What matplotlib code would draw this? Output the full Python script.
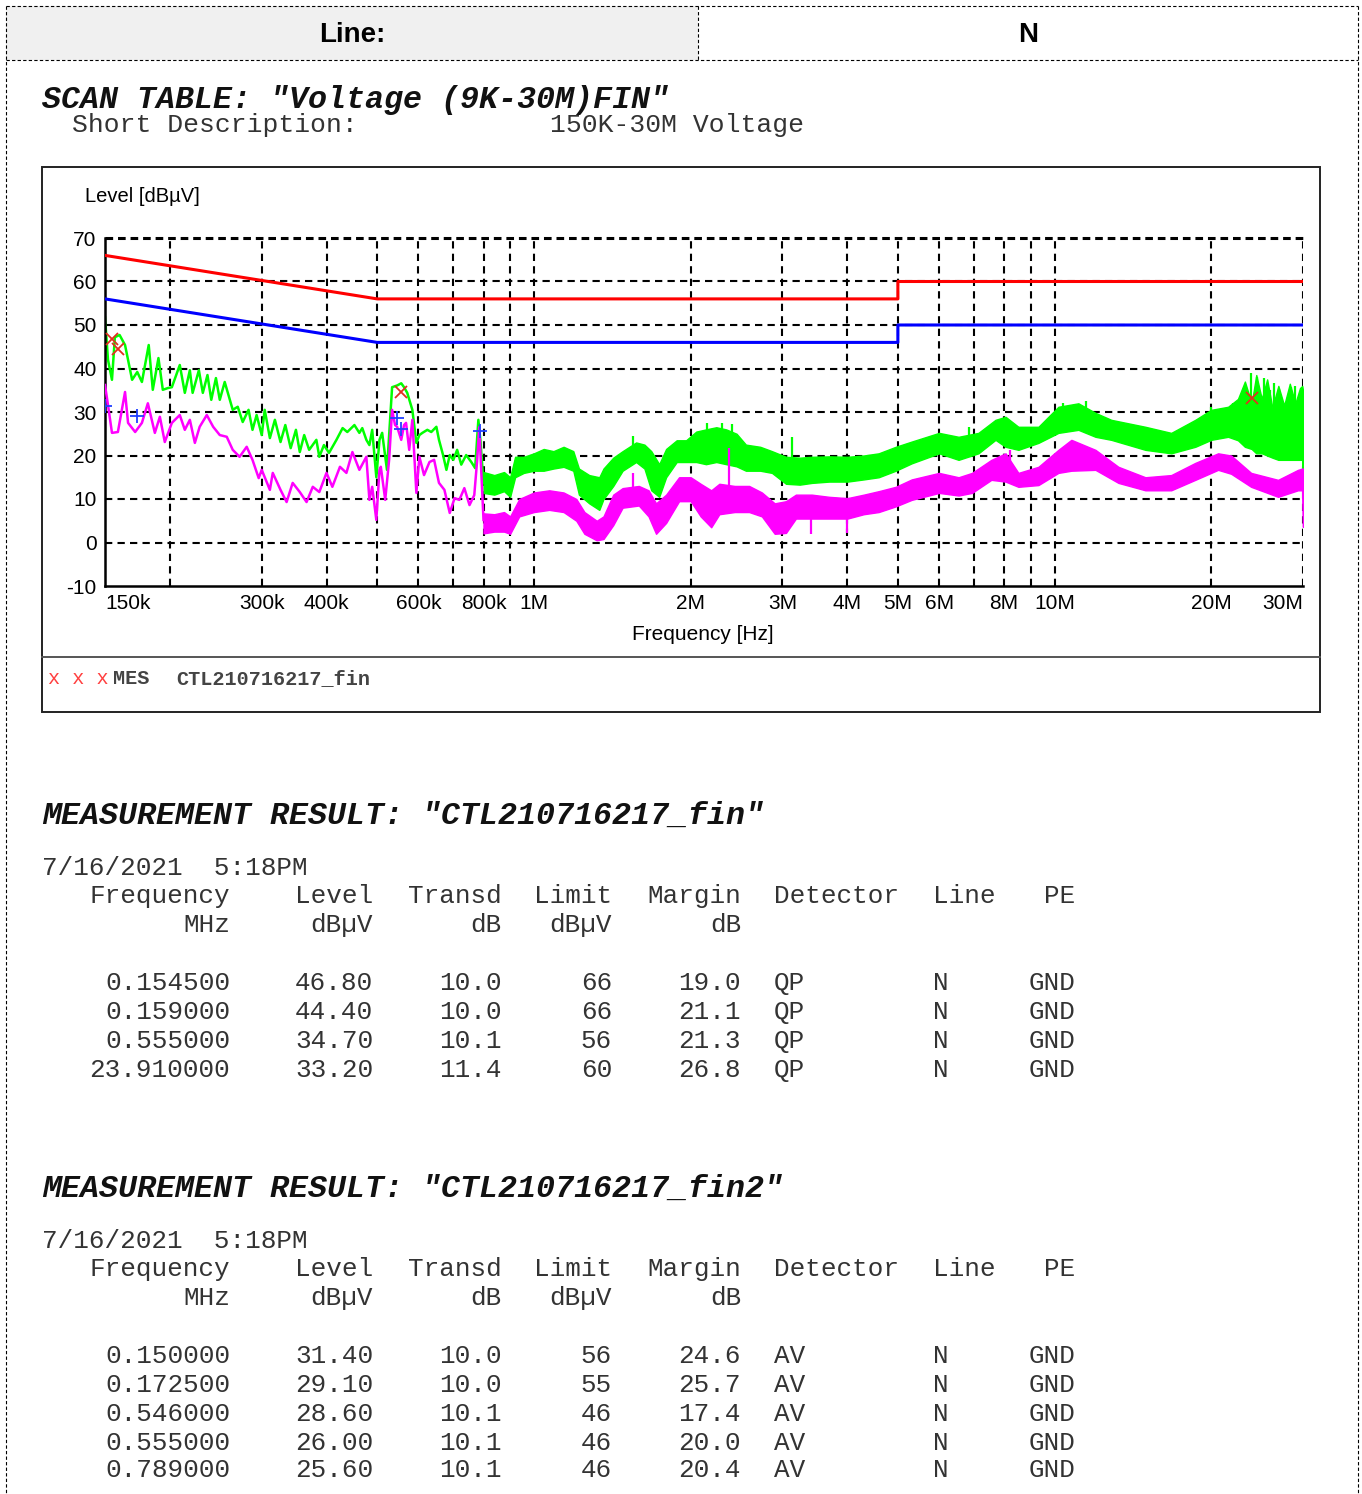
import numpy as np
import matplotlib.pyplot as plt
from matplotlib.patches import Rectangle
from matplotlib.ticker import NullLocator

W, H = 1362, 1494

# final measurement results, QP detector
qp_freq = [0.1545, 0.159, 0.555, 23.91]
qp_level = [46.80, 44.40, 34.70, 33.20]
qp_transd = [10.0, 10.0, 10.1, 11.4]
qp_limit = [66, 66, 56, 60]
qp_margin = [19.0, 21.1, 21.3, 26.8]

# final measurement results, AV detector
av_freq = [0.150, 0.1725, 0.546, 0.555, 0.789]
av_level = [31.40, 29.10, 28.60, 26.00, 25.60]
av_transd = [10.0, 10.0, 10.1, 10.1, 10.1]
av_limit = [56, 55, 46, 46, 46]
av_margin = [24.6, 25.7, 17.4, 20.0, 20.4]

# limit lines (MHz, dBuV)
lim_f = [0.15, 0.5, 5.0, 5.0, 30.0]
qp_lim = [66, 56, 56, 60, 60]
av_lim = [56, 46, 46, 50, 50]

# peak trace (green), 150k - 800k
pk_f = [0.150, 0.152, 0.1547, 0.1567, 0.160, 0.1639, 0.1691, 0.173, 0.1766, 0.182,
        0.1853, 0.190, 0.1937, 0.198, 0.2016, 0.2088, 0.2135, 0.2183, 0.221, 0.2272,
        0.2312, 0.236, 0.240, 0.245, 0.2492, 0.2547, 0.2639, 0.2698, 0.2758, 0.283,
        0.288, 0.2933, 0.300, 0.304, 0.311, 0.318, 0.326, 0.333, 0.341, 0.349,
        0.355, 0.362, 0.370, 0.382, 0.387, 0.395, 0.404, 0.4175, 0.429, 0.438,
        0.452, 0.462, 0.468, 0.4765, 0.483, 0.489, 0.498, 0.505, 0.511, 0.522,
        0.534, 0.546, 0.556, 0.563, 0.571, 0.584, 0.5945, 0.6025, 0.6105, 0.624,
        0.635, 0.6495, 0.657, 0.669, 0.679, 0.689, 0.700, 0.712, 0.725, 0.741,
        0.758, 0.771, 0.782, 0.789, 0.80]
pk_v = [51.8, 42.0, 37.4, 47.2, 47.7, 45.4, 37.4, 39.2, 36.9, 45.4,
        35.1, 42.4, 35.1, 35.5, 35.7, 40.8, 34.4, 39.6, 34.4, 39.6,
        34.4, 38.5, 32.8, 37.8, 32.8, 36.9, 30.5, 31.2, 27.7, 30.5,
        25.9, 29.3, 24.7, 30.5, 24.0, 28.2, 23.1, 27.0, 21.7, 25.9,
        20.8, 24.7, 21.3, 23.6, 19.7, 22.4, 20.6, 23.6, 26.3, 25.4,
        27.0, 25.2, 26.3, 23.6, 22.4, 25.9, 15.0, 23.6, 25.2, 16.7,
        35.7, 36.1, 36.6, 35.7, 34.4, 30.5, 22.9, 24.7, 25.2, 25.9,
        25.4, 26.6, 23.6, 20.1, 16.7, 20.1, 19.0, 21.3, 17.9, 20.1,
        18.5, 17.1, 28.2, 23.6, 13.7]

# peak trace, 800k - 30M (dense noise band: upper / lower edge)
pk_band_f = [0.80, 0.839, 0.876, 0.90, 0.92, 0.956, 1.0, 1.044, 1.09, 1.14,
             1.19, 1.22, 1.277, 1.335, 1.36, 1.42, 1.48, 1.571, 1.63, 1.68,
             1.74, 1.794, 1.88, 1.96, 2.05, 2.14, 2.24, 2.34, 2.45, 2.553,
             2.72, 2.865, 3.048, 3.24, 3.418, 3.69, 4.0, 4.3, 4.594, 4.953,
             5.315, 6.0, 6.54, 7.14, 7.70, 8.05, 8.52, 9.31, 10.17, 11.11,
             11.98, 12.85, 14.94, 16.75, 18.63, 19.99, 21.54, 22.5, 23.2, 23.9,
             24.4, 25.0, 25.6, 26.2, 26.9, 27.6, 28.3, 29.0, 29.6, 29.9, 30.0]
pk_band_hi = [16.2, 15.5, 16.2, 15, 19.7, 19.7, 20.5, 21.5, 21, 22,
              21, 17, 15.5, 15, 17, 19.5, 21, 23, 22.5, 21,
              18, 21.5, 23.5, 23.5, 25.5, 26, 26.5, 26, 25, 22.5,
              22, 21, 19.7, 19.5, 19.7, 19.8, 19.7, 20, 20.5, 22,
              23.2, 25.2, 24.3, 25.2, 28.2, 28.9, 26.6, 26.6, 31.2, 32,
              29.8, 28.2, 26.6, 25.2, 28.2, 30.5, 31.2, 33, 37, 32,
              38.5, 33, 37.5, 31, 36, 31.5, 36.5, 32, 35.5, 36, 35]
pk_band_lo = [11.4, 11, 11.8, 10.5, 15, 16, 16.5, 16.5, 17, 17.4,
              16.5, 11, 9, 7.5, 10, 13, 16.5, 18.5, 17, 12,
              10.5, 15, 18.5, 18.5, 18.5, 18, 18.5, 18, 17.5, 16.5,
              16.5, 16, 13.5, 13.3, 13.7, 14, 14, 14.5, 15, 16.5,
              18.2, 20.5, 19, 20.5, 23.6, 22, 21.3, 22.9, 25.2, 25.9,
              24.3, 23.6, 21.3, 20.5, 22, 23.6, 24.3, 23.5, 22, 21.5,
              20.5, 20.5, 20, 19.5, 19, 19, 19, 19, 19, 19, 10.5]
# single narrow spikes sticking out of the peak band
pk_spike_f = [1.55, 2.15, 2.30, 2.40, 3.13, 6.84, 10.4, 11.5, 20.0, 22.0,
              23.8, 24.5, 25.3, 25.9, 26.4, 27.0, 28.4, 29.0]
pk_spike_v = [24.5, 27.4, 27.4, 27.2, 24.3, 26.6, 32.0, 32.5, 31.2, 31.4,
              39.0, 38.0, 37.8, 35.0, 36.6, 34.5, 35.5, 36.0]

# average trace (magenta), 150k - 800k
avg_f = [0.150, 0.152, 0.1547, 0.1588, 0.1639, 0.1661, 0.1714, 0.1766, 0.1813, 0.187,
         0.1912, 0.1954, 0.2016, 0.2088, 0.2135, 0.2183, 0.2232, 0.228, 0.2353, 0.242,
         0.2492, 0.257, 0.2639, 0.272, 0.2807, 0.288, 0.296, 0.300, 0.311, 0.315,
         0.326, 0.3349, 0.344, 0.355, 0.3658, 0.376, 0.387, 0.3995, 0.410, 0.424,
         0.4363, 0.448, 0.462, 0.4765, 0.483, 0.489, 0.498, 0.505, 0.508, 0.518,
         0.527, 0.534, 0.541, 0.546, 0.556, 0.563, 0.568, 0.576, 0.584, 0.5945,
         0.6025, 0.615, 0.630, 0.643, 0.657, 0.673, 0.689, 0.704, 0.719, 0.735,
         0.752, 0.768, 0.778, 0.785, 0.80]
avg_v = [36.2, 31.6, 25.2, 25.4, 34.6, 27.5, 25.4, 27.5, 32.0, 25.2,
         28.9, 23.1, 27.5, 29.3, 25.9, 28.2, 22.9, 26.6, 29.3, 26.6,
         24.7, 24.3, 21.3, 19.7, 22.0, 19.0, 14.8, 16.7, 12.1, 16.0,
         12.1, 9.3, 13.7, 11.6, 9.3, 12.8, 11.6, 16.0, 12.8, 17.4,
         16.0, 20.8, 16.7, 19.7, 9.8, 12.8, 5.2, 16.7, 17.4, 9.8,
         19.0, 30.5, 27.0, 26.6, 23.6, 27.0, 27.5, 21.3, 28.2, 11.4,
         19.7, 15.5, 18.5, 19.0, 13.7, 12.1, 6.8, 10.2, 9.8, 12.5,
         8.6, 10.9, 19.0, 26.5, 5.2]

# average trace, 800k - 30M band
avg_band_f = [0.80, 0.839, 0.876, 0.90, 0.937, 1.0, 1.07, 1.14, 1.206, 1.25,
              1.32, 1.36, 1.42, 1.48, 1.59, 1.66, 1.716, 1.794, 1.90, 2.0,
              2.09, 2.19, 2.27, 2.43, 2.59, 2.74, 2.90, 3.048, 3.185, 3.418,
              3.69, 4.0, 4.3, 4.594, 4.953, 5.315, 6.0, 6.54, 6.94, 7.56,
              8.05, 8.52, 9.31, 10.17, 10.77, 11.98, 13.26, 14.94, 16.75, 18.63,
              20.61, 21.83, 23.85, 26.87, 29.34, 29.9, 30.0]
avg_band_hi = [6.7, 6.5, 7, 6, 10, 11.5, 12, 11.5, 10, 7,
               5, 6, 11, 12.5, 13, 12, 9, 11, 15, 15,
               13.5, 12, 13.5, 13, 13, 11.5, 9, 9.5, 11, 11,
               10.5, 10.2, 11, 11.8, 12.8, 14.5, 16, 15, 16, 19,
               20.5, 16, 17.4, 21.3, 23.6, 21.3, 17.4, 15, 15.5, 18.3,
               20.5, 20, 16, 14.4, 16.7, 17, 17]
avg_band_lo = [2.1, 2.5, 2.5, 2, 6, 7, 7.5, 7, 5, 2,
               0.5, 0.8, 4, 8, 8.5, 6, 2, 4.5, 9.5, 9.5,
               6, 3.5, 6.5, 7, 7, 6, 2, 2.2, 5.5, 5.5,
               5.5, 5.5, 6.5, 7, 8.3, 9.8, 11.4, 10.8, 11.4, 14.4,
               14, 12.8, 13.2, 16, 16.5, 16.7, 13.7, 12, 12, 14.4,
               16.7, 15.8, 12.8, 10.5, 12, 12, 3.6]
avg_spike_f = [1.55, 2.37, 3.40, 4.0, 8.2]
avg_spike_v = [16.0, 21.7, 2.0, 2.2, 21.3]

x_ticks = [0.15, 0.3, 0.4, 0.6, 0.8, 1, 2, 3, 4, 5, 6, 8, 10, 20, 30]
x_labels = ['150k', '300k', '400k', '600k', '800k', '1M', '2M', '3M', '4M', '5M',
            '6M', '8M', '10M', '20M', '30M']
grid_f = [0.2, 0.3, 0.4, 0.5, 0.6, 0.7, 0.8, 0.9, 1, 2, 3, 4, 5, 6, 7, 8, 9, 10, 20, 30]

SANS = 'Liberation Sans'
MONO = 'Liberation Mono'

fig = plt.figure(figsize=(W / 100, H / 100), dpi=100)

# page layer in pixel coordinates
bg = fig.add_axes([0, 0, 1, 1])
bg.set_xlim(0, W)
bg.set_ylim(H, 0)
bg.axis('off')

bg.add_patch(Rectangle((6, 6), 692, 54, facecolor='#f0f0f0', edgecolor='none'))
dash = dict(color='black', lw=0.8, ls=(0, (3, 2)))
bg.plot([6, 1358], [6, 6], **dash)
bg.plot([6, 1358], [60, 60], **dash)
bg.plot([6, 6], [6, H], **dash)
bg.plot([1358, 1358], [6, H], **dash)
bg.plot([698, 698], [6, 60], **dash)
bg.text(352, 35, 'Line:', fontsize=20, fontweight='bold', family=SANS, ha='center', va='center')
bg.text(1028, 35, 'N', fontsize=20, fontweight='bold', family=SANS, ha='center', va='center')

bg.text(42, 100, 'SCAN TABLE: "Voltage (9K-30M)FIN"', fontsize=22.8, fontweight='bold',
        style='italic', family=MONO, va='center', color='#111')
bg.text(72, 125, 'Short Description:', fontsize=19, family=MONO, va='center', color='#333')
bg.text(550, 125, '150K-30M Voltage', fontsize=19, family=MONO, va='center', color='#333')

# chart frame
bg.add_patch(Rectangle((42, 167), 1278, 545, facecolor='white', edgecolor='#222', lw=1.4))
bg.plot([42, 1320], [657, 657], color='#555', lw=1.4)
bg.text(85, 197, 'Level [dB\u00b5V]', fontsize=14.5, family=SANS, va='center')
bg.text(703, 634, 'Frequency [Hz]', fontsize=15, family=SANS, ha='center', va='center')
bg.text(48, 679, 'x x x', fontsize=14.5, family=MONO, color='#ff4040', va='center')
bg.text(113, 679, 'MES', fontsize=14.5, family=MONO, fontweight='bold', color='#444', va='center')
bg.text(176, 679, 'CTL210716217_fin', fontsize=14.5, family=MONO, fontweight='bold',
        color='#444', va='center')

# measurement tables
cols_r = [230, 373, 502, 612, 741]
heads = ['Frequency', 'Level', 'Transd', 'Limit', 'Margin']
units = ['MHz', 'dB\u00b5V', 'dB', 'dB\u00b5V', 'dB']
tkw = dict(fontsize=18.7, family=MONO, color='#333', va='center')


def table(y0, name, det, freq, level, transd, limit, margin):
    bg.text(42, y0, 'MEASUREMENT RESULT: "%s"' % name, fontsize=22.8, fontweight='bold',
            style='italic', family=MONO, va='center', color='#111')
    bg.text(42, y0 + 52, '7/16/2021  5:18PM', **tkw)
    for x, h, u in zip(cols_r, heads, units):
        bg.text(x, y0 + 80, h, ha='right', **tkw)
        bg.text(x, y0 + 109, u, ha='right', **tkw)
    bg.text(774, y0 + 80, 'Detector', **tkw)
    bg.text(933, y0 + 80, 'Line', **tkw)
    bg.text(1075, y0 + 80, 'PE', ha='right', **tkw)
    for i in range(len(freq)):
        y = y0 + 167 + i * 29 - (2 if i == 4 else 0)
        cells = ['%.6f' % freq[i], '%.2f' % level[i], '%.1f' % transd[i],
                 '%d' % limit[i], '%.1f' % margin[i]]
        for x, c in zip(cols_r, cells):
            bg.text(x, y, c, ha='right', **tkw)
        bg.text(774, y, det, **tkw)
        bg.text(933, y, 'N', **tkw)
        bg.text(1075, y, 'GND', ha='right', **tkw)


table(816, 'CTL210716217_fin', 'QP', qp_freq, qp_level, qp_transd, qp_limit, qp_margin)
table(1189, 'CTL210716217_fin2', 'AV', av_freq, av_level, av_transd, av_limit, av_margin)

# the spectrum plot
ax = fig.add_axes([105 / W, 1 - 586 / H, (1303 - 105) / W, (586 - 238) / H])
ax.set_xscale('log')
ax.set_xlim(0.15, 30)
ax.set_ylim(-10, 70)

for f in grid_f:
    ax.axvline(f, color='black', lw=1.5, ls=(0, (3.5, 2.5)), zorder=1)
for v in range(0, 70, 10):
    ax.axhline(v, color='black', lw=1.5, ls=(0, (3.5, 2.5)), zorder=1)
ax.axhline(70, color='black', lw=2.2, ls=(0, (2.5, 1.6)), zorder=1, clip_on=False)


def band(f, lo, hi, sf, sv, color, z):
    ax.fill_between(f, lo, hi, color=color, lw=1.0, zorder=z)
    lf = np.log(f)
    base_lo = np.interp(np.log(sf), lf, lo)
    base_hi = np.interp(np.log(sf), lf, hi)
    ax.vlines(sf, np.minimum(sv, base_lo), np.maximum(sv, base_hi), color=color, lw=1.6, zorder=z)


band(pk_band_f, pk_band_lo, pk_band_hi, pk_spike_f, pk_spike_v, '#00ff00', 2)
ax.plot(pk_f, pk_v, color='#00ff00', lw=1.8, zorder=2)
band(avg_band_f, avg_band_lo, avg_band_hi, avg_spike_f, avg_spike_v, '#ff00ff', 3)
ax.plot(avg_f, avg_v, color='#ff00ff', lw=1.8, zorder=3)

ax.plot(lim_f, qp_lim, color='#ff0000', lw=2.2, zorder=4)
ax.plot(lim_f, av_lim, color='#0000ff', lw=2.2, zorder=4)

ax.plot(qp_freq, qp_level, 'x', color='#e03020', ms=8, mew=1.3, zorder=5)
ax.plot(av_freq, av_level, '+', color='#2040ff', ms=10, mew=1.3, zorder=5)

for s in ['top', 'right']:
    ax.spines[s].set_visible(False)
for s in ['left', 'bottom']:
    ax.spines[s].set_linewidth(1.8)

ax.set_xticks(x_ticks)
ax.set_xticklabels(x_labels, fontsize=15, family=SANS)
ax.xaxis.set_minor_locator(NullLocator())
ax.set_yticks(range(-10, 71, 10))
ax.set_yticklabels([str(v) for v in range(-10, 71, 10)], fontsize=15, family=SANS)
ax.tick_params(length=0, pad=6)
xl = ax.get_xticklabels()
xl[0].set_ha('left')
xl[-1].set_ha('right')

fig.savefig('out.png', dpi=100)
